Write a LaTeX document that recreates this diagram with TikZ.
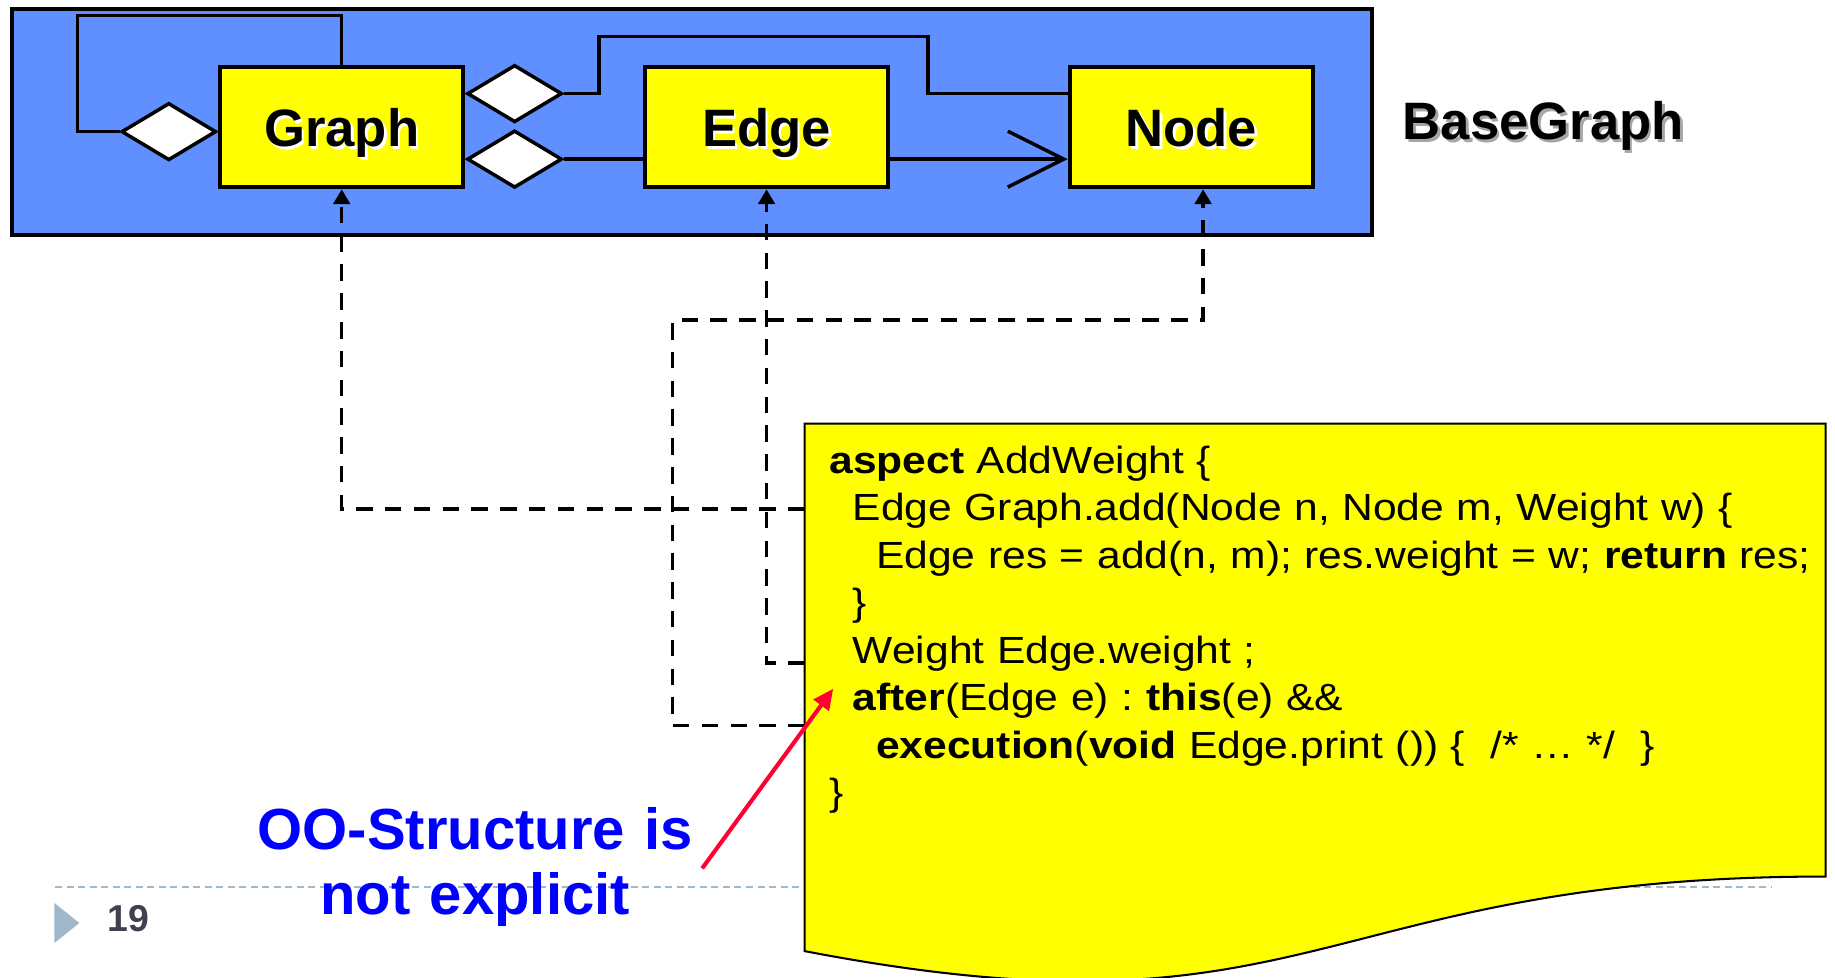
\documentclass[tikz,border=0pt]{standalone}
\usepackage{fontspec}
\setmainfont{Liberation Sans}
\newfontfamily\codefont[FakeStretch=1.125]{Liberation Sans}
\usetikzlibrary{arrows.meta,positioning,shapes.geometric}
\definecolor{ink}{HTML}{000000}
\definecolor{pkgfill}{HTML}{6090FF}
\definecolor{classfill}{HTML}{FFFF00}
\definecolor{noteblue}{HTML}{0000FF}
\definecolor{pointred}{HTML}{FF0033}
\definecolor{rulegray}{HTML}{A0B8CC}
\definecolor{numgray}{HTML}{404050}
% text with a slightly offset copy behind it
\newcommand{\liftedtext}[2]{\makebox[0pt][l]{\kern0.6pt\raisebox{-0.6pt}{\textcolor{#1}{#2}}}#2}
\tikzset{
  pkg/.style={draw=ink, fill=pkgfill, line width=1pt, inner sep=0pt},
  cls/.style={draw=ink, fill=classfill, line width=1pt, minimum width=2.08cm, minimum height=1.03cm, inner sep=0pt, text height=9.6pt, text depth=0pt, font=\fontsize{12.8}{15}\selectfont\bfseries},
  agg/.style={diamond, draw=ink, fill=white, line width=0.85pt, minimum width=0.81cm, minimum height=0.49cm, inner sep=0pt},
  link/.style={draw=ink, line width=0.85pt},
  nav/.style={link, -{Straight Barb[length=13.6pt,width=13.6pt]}},
  dep/.style={draw=ink, line width=0.85pt, dash pattern=on 4pt off 3pt, -{Triangle[length=3.6pt,width=4pt]}},
  doc/.style={draw=ink, fill=classfill, line width=0.5pt},
  code/.style={inner sep=0pt, text width=8.5cm, align=left, font=\codefont\fontsize{9.2}{11.55}\selectfont\frenchspacing},
  remarktext/.style={inner sep=0pt, text width=4.4cm, align=center, text=noteblue, font=\fontsize{14.1}{15.8}\selectfont\bfseries},
  pointer/.style={draw=pointred, line width=1pt, -{Triangle[length=5pt,width=4.5pt]}}
}

\begin{document}
\begin{tikzpicture}
  \useasboundingbox (0,0) rectangle (15.68,-8.35);
  \clip (0,0) rectangle (15.68,-8.35);

  % slide footer
  \draw[rulegray, line width=0.6pt, dash pattern=on 1.7pt off 1.1pt] (0.47,-7.58) -- (15.14,-7.58);
  \fill[rulegray] (0.465,-7.716) -- (0.678,-7.887) -- (0.465,-8.058) -- cycle;
  \node[anchor=base west, inner sep=0pt, text=numgray, font=\fontsize{9.1}{11}\selectfont\bfseries] (pageno) at (0.915,-7.96) {19};

  % package with its classes
  \node[pkg, minimum width=11.62cm, minimum height=1.93cm] (pkg) at (5.91,-1.045) {};
  \node[anchor=base west, inner sep=0pt, font=\fontsize{12.8}{15}\selectfont\bfseries] (pkglabel) at (11.98,-1.196) {\liftedtext{black!35}{BaseGraph}};

  \node[cls] (graphcls) at (2.92,-1.085) {\liftedtext{white}{Graph}};
  \node[cls, right=1.515cm of graphcls] (edgecls) {\liftedtext{white}{Edge}};
  \node[cls, right=1.515cm of edgecls] (nodecls) {\liftedtext{white}{Node}};

  \node[agg, anchor=east, yshift=-0.4mm] (selfagg) at (graphcls.west) {};
  \node[agg, anchor=west, yshift=2.85mm] (nodeagg) at (graphcls.east) {};
  \node[agg, anchor=west, yshift=-2.75mm] (edgeagg) at (graphcls.east) {};

  \draw[link] (selfagg.west) -- ++(-0.36,0) |- ([yshift=4.2mm]graphcls.north) -- (graphcls.north);
  \draw[link] (nodeagg.east) -- ++(0.30,0) |- (7.93,-0.313) |- (nodeagg.east -| nodecls.west);
  \draw[link] (edgeagg.east) -- (edgeagg.east -| edgecls.west);
  \draw[nav] (edgecls.east |- edgeagg.east) -- (edgeagg.east -| nodecls.west);

  % dependencies of the aspect
  \coordinate (intoGraph) at (6.875,-4.35);
  \coordinate (intoEdge) at (6.875,-5.665);
  \coordinate (intoNode) at (6.875,-6.20);
  \draw[dep] (intoGraph) -| (graphcls.south);
  \draw[dep] (intoEdge) -| (edgecls.south);
  \draw[dep] (intoNode) -| (5.745,-2.735) -| ([xshift=1mm]nodecls.south);

  % aspect code sheet
  \path[doc] (6.875,-3.62) -- (15.60,-3.62) -- (15.60,-7.49)
    .. controls (11.235,-7.49) and (11.235,-8.965) .. (6.875,-8.127) -- cycle;
  \node[code, anchor=base west] (aspect) at (7.08,-4.044) {%
    \textbf{aspect} AddWeight \{\\
    \hspace*{0.2cm}Edge Graph.add(Node n, Node m, Weight w) \{\\
    \hspace*{0.4cm}Edge res = add(n, m); res.weight = w; \textbf{return} res;\\
    \hspace*{0.2cm}\}\\
    \hspace*{0.2cm}Weight Edge.weight ;\\
    \hspace*{0.2cm}\textbf{after}(Edge e) : \textbf{this}(e) \&\&\\
    \hspace*{0.4cm}\textbf{execution}(\textbf{void} Edge.print ()) \{\ \ /* … */\ \ \}\\
    \}};

  % remark
  \node[remarktext, anchor=base] (remark) at (4.06,-7.263) {OO-Structure is\\not explicit};
  \coordinate (remarktail) at (6.00,-7.42);
  \coordinate (remarkaim) at (7.12,-5.885);
  \draw[pointer] (remarktail) -- (remarkaim);
\end{tikzpicture}
\end{document}
